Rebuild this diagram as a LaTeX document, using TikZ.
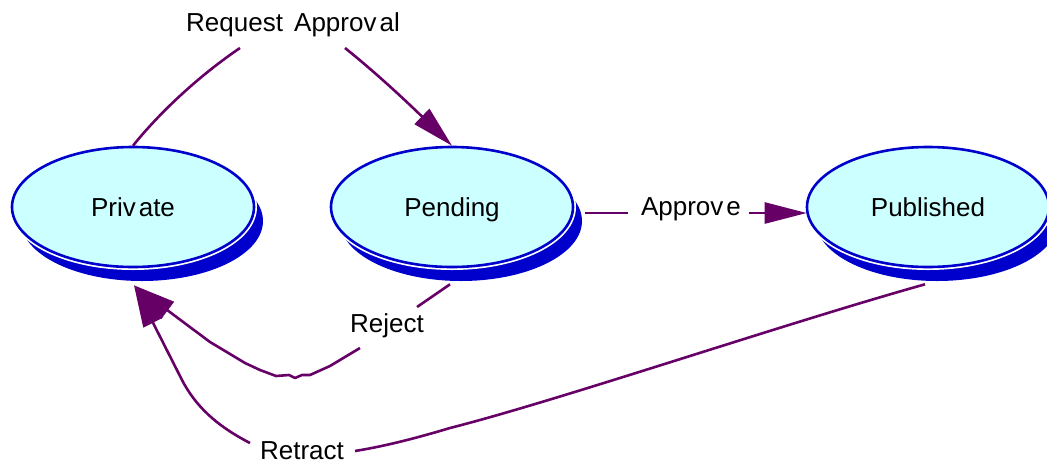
\documentclass[tikz,border=0pt]{standalone}
\usepackage{fontspec}
\setmainfont{Liberation Sans}
\usetikzlibrary{arrows.meta,shadows,calc,shapes.geometric}
\definecolor{nodefill}{RGB}{204,255,255}
\definecolor{nodeline}{RGB}{0,0,204}
\definecolor{edgecol}{RGB}{102,0,102}
\begin{document}
\begin{tikzpicture}[x=1pt,y=-1pt,
  state/.style={ellipse, minimum width=242pt, minimum height=120pt, inner sep=0pt,
    fill=nodefill, draw=nodeline, line width=2.6pt,
    general shadow={fill=nodeline, shadow xshift=9pt, shadow yshift=-14pt},
    preaction={draw=white, line width=6pt},
    font=\fontsize{26}{30}\selectfont, text height=19pt, text depth=0pt},
  lbl/.style={font=\fontsize{26}{30}\selectfont, inner sep=0pt, anchor=base},
  edgeline/.style={draw=edgecol, line width=2.6pt, line join=round},
  arr/.style={-{Triangle[length=42pt,width=21pt]}}]
\useasboundingbox (0,0) rectangle (1047,464);
\node[state] (priv) at (133,207) {Priv\kern3pt ate};
\node[state] (pend) at (452,207) {Pending};
\node[state] (pub) at (928,207) {Published};
\node[lbl] (lreq) at (293,31) {Request\kern4pt\ Approv\kern3pt al};
\node[lbl] (lapp) at (691,215) {Approv\kern3pt e};
\node[lbl] (lrej) at (387,332) {Reject};
\node[lbl] (lret) at (302,459) {Retract};
\coordinate (r1) at (240,48);
\coordinate (r2) at (345,48);
\coordinate (a1) at (628,213);
\coordinate (a2) at (749,213);
\coordinate (j1) at (417,307);
\coordinate (j2) at (360,348);
\coordinate (t1) at (355,451);
\coordinate (t2) at (250,443);
% Request Approval
\draw[edgeline] (priv.north) .. controls (160,112) and (200,75) .. (r1);
\draw[edgeline,arr] (r2) .. controls (375,72) and (405,100) .. (pend.north);
% Approve
\draw[edgeline] ($(pend.east)+(11,6)$) -- (a1);
\draw[edgeline,arr] (a2) -- ($(pub.west)+(1,6)$);
% Reject
\draw[edgeline] ($(pend.south)+(-2,16)$) -- (j1);
\draw[edgeline,arr] (j2) -- (330,366) -- (310,375) -- (302,375) -- (295,378) -- (289,375)
  -- (276,376) -- (260,370) -- (245,363) -- (210,342) -- ($(priv.south)+(1,17)$);
% Retract
\draw[edgeline] ($(pub.south)+(-3,16)$) .. controls (780,325) and (560,400) .. (450,428)
  .. controls (410,440) and (380,447) .. (t1);
\draw[edgeline,arr] (t2) .. controls (215,425) and (195,405) .. (182,380) -- ($(priv.south)+(1,17)$);
\end{tikzpicture}
\end{document}
